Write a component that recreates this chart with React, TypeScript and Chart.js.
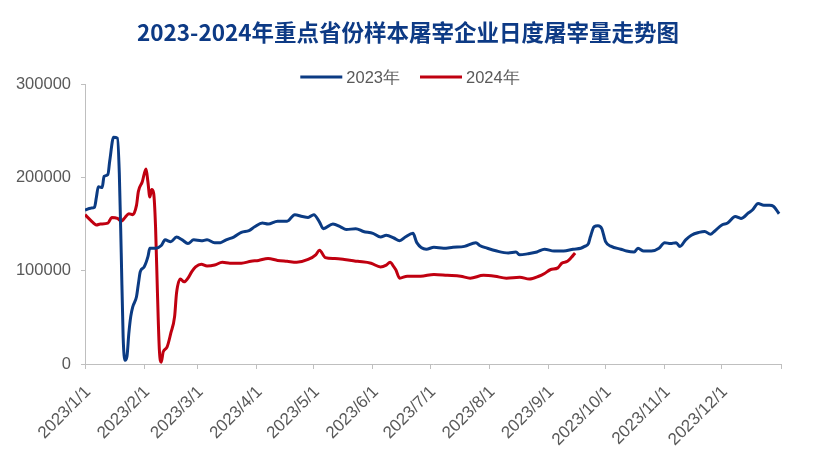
import React, { useEffect, useRef } from 'react';
import { Chart, registerables } from 'chart.js';

Chart.register(...registerables);

const chartTitle = '2023-2024年重点省份样本屠宰企业日度屠宰量走势图';
const seriesNames = ['2023年', '2024年'];
const seriesColors = ['#0B3B83', '#C00010'];

// day-of-year positions of month starts (last = next Jan 1, unlabeled)
const monthTickDays = [0, 31, 59, 90, 120, 151, 181, 212, 243, 273, 304, 334, 365];
const monthTickLabels = [
  '2023/1/1', '2023/2/1', '2023/3/1', '2023/4/1', '2023/5/1', '2023/6/1',
  '2023/7/1', '2023/8/1', '2023/9/1', '2023/10/1', '2023/11/1', '2023/12/1', '',
];
const yTickValues = [0, 100000, 200000, 300000];

const days2023 = [
  0, 3, 5, 6, 7, 9, 10, 12, 13, 15, 17, 18, 19, 20, 21, 22, 23, 24, 25, 27, 28, 29, 31, 33, 34, 37, 40, 42, 45, 48,
  51, 54, 57, 61, 64, 68, 71, 74, 78, 82, 86, 89, 93, 96, 101, 106, 110, 114, 117, 120, 123, 125, 130, 134, 137,
  142, 146, 151, 155, 158, 162, 165, 168, 172, 174, 179, 183, 188, 193, 199, 205, 207, 211, 216, 222, 226, 228,
  232, 237, 241, 246, 251, 256, 260, 262, 264, 265, 267, 269, 271, 273, 276, 281, 284, 288, 290, 293, 297, 301,
  304, 307, 310, 312, 315, 318, 322, 325, 328, 330, 334, 337, 341, 344, 348, 350, 353, 356, 359, 361, 364,
];
const values2023 = [
  165000, 167000, 168000, 179000, 190000, 189000, 201000, 203000, 218000, 243000, 242000, 204000, 119000, 29000,
  4000, 8000, 33000, 51000, 61000, 72000, 86000, 99000, 104000, 115000, 124000, 124000, 127000, 133000, 131000,
  136000, 133000, 129000, 133000, 132000, 133000, 130000, 130000, 133000, 136000, 141000, 143000, 147000, 151000,
  150000, 153000, 153000, 160000, 158000, 157000, 160000, 152000, 145000, 150000, 147000, 144000, 145000, 142000,
  140000, 136000, 138000, 135000, 132000, 136000, 140000, 130000, 123000, 125000, 124000, 125000, 126000, 130000,
  127000, 124000, 121000, 119000, 120000, 117000, 118000, 120000, 123000, 121000, 121000, 123000, 124000, 126000,
  129000, 136000, 147000, 148000, 145000, 131000, 126000, 123000, 121000, 120000, 124000, 121000, 121000, 124000,
  130000, 129000, 130000, 126000, 133000, 138000, 141000, 142000, 139000, 142000, 149000, 151000, 158000, 156000,
  162000, 165000, 172000, 170000, 170000, 169000, 161000,
];

const days2024 = [
  0, 3, 6, 8, 12, 14, 17, 19, 21, 23, 25, 27, 28, 30, 32, 33, 34, 35, 36, 37, 38, 39, 40, 41, 43, 45, 47, 48, 50,
  52, 54, 56, 58, 61, 64, 68, 72, 76, 82, 87, 91, 96, 101, 106, 111, 117, 121, 123, 126, 131, 136, 143, 150, 155,
  158, 160, 162, 163, 165, 169, 176, 183, 190, 197, 202, 209, 215, 221, 228, 233, 238, 241, 244, 248, 250, 253,
  255, 257,
];
const values2024 = [
  160000, 154000, 149000, 150000, 151000, 157000, 156000, 153000, 157000, 161000, 160000, 170000, 185000, 195000,
  209000, 195000, 179000, 187000, 183000, 147000, 76000, 15000, 2000, 13000, 18000, 33000, 51000, 76000, 91000,
  88000, 92000, 99000, 104000, 107000, 105000, 106000, 109000, 108000, 108000, 110000, 111000, 113000, 111000,
  110000, 109000, 112000, 117000, 122000, 114000, 113000, 112000, 110000, 108000, 104000, 106000, 109000, 104000,
  101000, 92000, 94000, 94000, 96000, 95000, 94000, 92000, 95000, 94000, 92000, 93000, 91000, 94000, 97000,
  101000, 103000, 108000, 110000, 114000, 119000,
];

const toPoints = (xs: number[], ys: number[]) => xs.map((x, i) => ({ x, y: ys[i] }));

const legendPlugin = {
  id: 'customLegend',
  afterDraw(chart: any) {
    const ctx = chart.ctx;
    ctx.save();
    ctx.font = '16.5px "Liberation Sans", Arial, sans-serif';
    ctx.textBaseline = 'middle';
    ctx.textAlign = 'left';
    const lineLen = 42;
    const gap = 4;
    const itemGap = 20;
    const items = chart.data.datasets.map((ds: any) => ({
      text: ds.label,
      color: ds.borderColor,
      w: ctx.measureText(ds.label).width,
    }));
    const total =
      items.reduce((s: number, it: any) => s + lineLen + gap + it.w, 0) + itemGap * (items.length - 1);
    let x = chart.width / 2 - total / 2 + 2;
    const y = 77;
    items.forEach((it: any) => {
      ctx.strokeStyle = it.color;
      ctx.lineWidth = 3;
      ctx.beginPath();
      ctx.moveTo(x, y);
      ctx.lineTo(x + lineLen, y);
      ctx.stroke();
      x += lineLen + gap;
      ctx.fillStyle = '#595959';
      ctx.fillText(it.text, x, y + 1);
      x += it.w + itemGap;
    });
    ctx.restore();
  },
};

export default function App() {
  const ref = useRef<HTMLCanvasElement>(null);

  useEffect(() => {
    if (!ref.current) return;
    const axisColor = '#BFBFBF';
    const chart = new Chart(ref.current, {
      type: 'line',
      data: {
        datasets: [
          {
            label: seriesNames[0],
            data: toPoints(days2023, values2023),
            borderColor: seriesColors[0],
            backgroundColor: seriesColors[0],
            borderWidth: 3,
            pointRadius: 0,
            cubicInterpolationMode: 'monotone',
            fill: false,
          },
          {
            label: seriesNames[1],
            data: toPoints(days2024, values2024),
            borderColor: seriesColors[1],
            backgroundColor: seriesColors[1],
            borderWidth: 3,
            pointRadius: 0,
            cubicInterpolationMode: 'monotone',
            fill: false,
          },
        ],
      },
      options: {
        animation: false,
        responsive: true,
        maintainAspectRatio: false,
        layout: { padding: { left: 0, right: 0, top: 0, bottom: 0 } },
        plugins: {
          legend: { display: false },
          tooltip: { enabled: false },
          title: {
            display: true,
            text: chartTitle,
            color: '#0D3A85',
            font: { family: '"Noto Sans CJK SC", sans-serif', size: 22.5, weight: 'bold', lineHeight: 1.2 },
            padding: { top: 18.5, bottom: 38.5 },
          },
        },
        scales: {
          x: {
            type: 'linear',
            min: monthTickDays[0],
            max: monthTickDays[monthTickDays.length - 1],
            afterBuildTicks: (scale: any) => {
              scale.ticks = monthTickDays.map((v) => ({ value: v }));
            },
            afterFit: (scale: any) => {
              scale.height = 98;
            },
            ticks: {
              autoSkip: false,
              minRotation: 45,
              maxRotation: 45,
              color: '#595959',
              font: { family: '"Liberation Sans", Arial, sans-serif', size: 17 },
              padding: 13,
              labelOffset: 3,
              callback: (value: any) => {
                const i = monthTickDays.indexOf(Number(value));
                return i >= 0 ? monthTickLabels[i] : '';
              },
            },
            grid: { drawOnChartArea: false, drawTicks: true, tickLength: 5, color: axisColor },
            border: { display: true, color: axisColor, width: 1 },
          },
          y: {
            min: yTickValues[0],
            max: yTickValues[yTickValues.length - 1],
            afterBuildTicks: (scale: any) => {
              scale.ticks = yTickValues.map((v) => ({ value: v }));
            },
            afterFit: (scale: any) => {
              scale.width = 85;
            },
            ticks: {
              color: '#595959',
              font: { family: '"Liberation Sans", Arial, sans-serif', size: 16.5 },
              padding: 10,
              callback: (value: any) => String(value),
            },
            grid: { drawOnChartArea: false, drawTicks: true, tickLength: 4, color: axisColor },
            border: { display: true, color: axisColor, width: 1 },
          },
          rightSpace: {
            position: 'right',
            min: 0,
            max: 1,
            afterFit: (scale: any) => {
              scale.width = 35;
            },
            ticks: { display: false },
            grid: { display: false, drawTicks: false },
            border: { display: false },
          },
        },
      },
      plugins: [legendPlugin],
    } as any);
    return () => chart.destroy();
  }, []);

  return (
    <div style={{ position: 'fixed', left: 0, top: 0, width: 816, height: 462, background: '#fff' }}>
      <canvas ref={ref} />
    </div>
  );
}
